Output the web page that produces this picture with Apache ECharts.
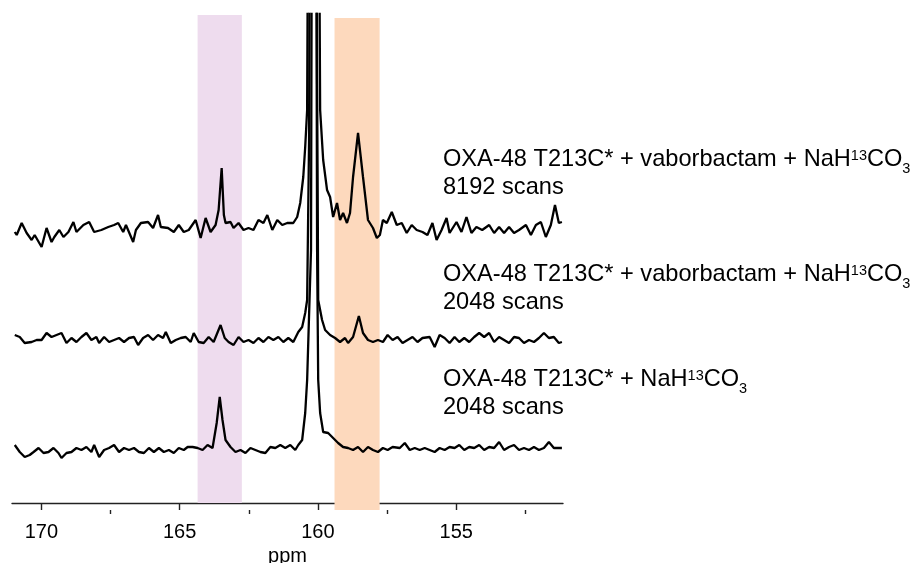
<!DOCTYPE html>
<html>
<head>
<meta charset="utf-8">
<script src="https://cdn.jsdelivr.net/npm/echarts@6/dist/echarts.min.js"></script>
<style>
  html, body { margin: 0; padding: 0; background: #fff; }
  #chart { width: 913px; height: 563px; }
</style>
</head>
<body>
<div id="chart"></div>
<script>
// chemical shift axis (ppm)
const majorTicks = [170, 165, 160, 155];
const minorTicks = [167.5, 162.5, 157.5, 152.5];

// highlighted regions (ppm)
const purpleBand = [164.35, 162.75];
const orangeBand = [159.4, 157.77];

// vertical offsets of the stacked spectra
const topOffset = 271;
const midOffset = 163;
const botOffset = 53;

// top spectrum: OXA-48 T213C* + vaborbactam + NaH13CO3, 8192 scans
const ppmTop = [170.96,170.89,170.71,170.53,170.35,170.24,169.99,169.81,169.63,169.53,
  169.35,169.20,169.02,168.84,168.73,168.48,168.27,168.09,167.83,167.58,
  167.37,167.22,167.04,166.94,166.68,166.58,166.40,166.14,165.96,165.78,
  165.68,165.42,165.21,165.03,164.85,164.67,164.42,164.24,164.06,163.88,
  163.70,163.59,163.48,163.40,163.34,163.16,163.05,162.87,162.69,162.51,
  162.33,162.15,161.97,161.83,161.65,161.47,161.29,161.11,160.89,160.75,
  160.64,160.53,160.46,160.39,160.17,159.92,159.81,159.67,
  159.56,159.45,159.31,159.20,159.09,158.95,158.84,158.73,158.55,158.37,
  158.19,158.01,157.87,157.76,157.65,157.51,157.33,157.15,156.97,156.79,
  156.61,156.43,156.22,156.04,155.86,155.71,155.53,155.35,155.24,154.99,
  154.81,154.63,154.45,154.27,154.06,153.81,153.63,153.45,153.27,153.09,
  152.91,152.73,152.48,152.30,152.12,151.94,151.76,151.58,151.43,151.29,
  151.18];
const intTop = [0,-3,9,-1,-8,-3,-15,4,-10,-5,
  2,-5,0,10,0,7,10,0,2,5,
  7,9,0,7,-10,2,9,10,4,17,
  5,4,0,7,0,2,12,-6,14,0,
  7,22,64,17,9,10,4,9,2,4,
  2,12,9,17,2,12,7,9,9,15,
  29,55,85,122,1500,122,72,42,
  35,15,29,12,19,9,19,55,99,55,
  12,4,-6,-3,12,9,20,7,9,-1,
  7,2,0,-3,9,-8,2,14,-1,10,
  0,15,-1,5,2,7,-1,5,-1,5,
  -1,2,7,-3,7,10,-5,7,27,9,
  10];

// middle spectrum: OXA-48 T213C* + vaborbactam + NaH13CO3, 2048 scans
const ppmMid = [170.96,170.78,170.60,170.35,170.17,169.99,169.81,169.63,169.45,169.27,
  169.09,168.91,168.73,168.55,168.37,168.19,168.01,167.91,167.73,167.55,
  167.37,167.19,167.01,166.83,166.65,166.50,166.32,166.14,165.96,165.78,
  165.60,165.50,165.32,165.14,164.96,164.78,164.60,164.49,164.31,164.13,
  163.95,163.88,163.77,163.52,163.37,163.23,163.05,162.87,162.69,162.51,
  162.33,162.15,161.97,161.79,161.61,161.43,161.25,161.07,160.89,160.71,
  160.57,160.46,160.39,160.32,160.17,160.03,159.99,159.85,159.74,159.56,159.38,159.20,
  159.02,158.91,158.73,158.52,158.37,158.19,158.01,157.83,157.65,157.48,
  157.30,157.12,156.94,156.76,156.58,156.40,156.22,155.96,155.78,155.60,
  155.42,155.24,155.06,154.89,154.71,154.53,154.35,154.17,153.99,153.81,
  153.63,153.45,153.27,153.09,152.91,152.73,152.55,152.37,152.19,152.01,
  151.83,151.65,151.47,151.29,151.18];
const intMid = [5,3,-3,-2,0,0,7,3,5,7,
  -3,2,-2,3,7,0,3,-3,3,-2,
  0,2,-2,2,3,-5,2,5,0,5,
  2,8,-3,0,2,3,-2,7,-2,-3,
  3,5,-2,15,2,-2,-5,3,-2,0,
  -3,2,-2,3,0,3,-2,2,-2,8,
  13,27,40,200,1500,260,40,20,10,5,2,-2,
  2,-3,3,24,7,0,-2,0,-2,5,
  0,3,-3,0,3,-2,2,3,-7,5,
  2,-3,3,-2,2,-2,3,7,3,7,
  -2,3,0,-3,3,2,-3,0,-2,2,
  7,2,3,-3,-2];

// bottom spectrum: OXA-48 T213C* + NaH13CO3, 2048 scans
const ppmBot = [170.96,170.78,170.60,170.42,170.28,170.10,169.92,169.74,169.56,169.38,
  169.27,169.09,168.91,168.73,168.55,168.37,168.19,168.09,167.91,167.73,
  167.55,167.37,167.19,167.01,166.83,166.65,166.47,166.29,166.11,165.93,
  165.75,165.57,165.39,165.21,165.03,164.85,164.71,164.53,164.35,164.17,
  163.99,163.81,163.66,163.55,163.45,163.34,163.16,162.98,162.80,162.62,
  162.44,162.26,162.08,161.90,161.72,161.54,161.36,161.18,161.00,160.82,
  160.71,160.57,160.46,160.39,160.25,160.14,160.03,159.99,159.92,159.81,159.63,159.45,
  159.27,159.09,158.91,158.73,158.55,158.37,158.19,158.01,157.83,157.65,
  157.48,157.30,157.04,156.86,156.68,156.50,156.32,156.14,155.96,155.78,
  155.60,155.42,155.24,155.06,154.89,154.71,154.53,154.35,154.17,153.99,
  153.81,153.63,153.45,153.27,153.09,152.91,152.73,152.55,152.37,152.19,
  152.01,151.83,151.65,151.47,151.18];
const intBot = [5,-2,-7,-5,-2,2,-3,-2,2,-3,
  -8,-3,-2,2,0,3,-2,5,-7,0,
  2,5,-2,2,0,2,-2,-3,2,-2,
  2,-2,0,-3,2,0,3,3,2,0,
  5,2,27,53,30,10,3,-2,0,-3,
  2,0,-2,-3,3,2,5,2,5,0,
  5,10,37,70,200,1500,200,70,37,18,17,12,
  7,3,2,0,3,-2,3,0,-2,2,
  0,3,2,7,0,2,0,2,0,-2,
  2,0,3,2,5,0,3,2,5,0,
  3,2,8,0,3,5,0,2,0,3,
  0,2,8,2,2];

const labelBlocks = [
  { main: 'OXA-48 T213C* + vaborbactam + NaH', scans: '8192 scans', top: 147 },
  { main: 'OXA-48 T213C* + vaborbactam + NaH', scans: '2048 scans', top: 262 },
  { main: 'OXA-48 T213C* + NaH', scans: '2048 scans', top: 367 }
];

const FONT = "'Liberation Sans', Arial, sans-serif";

function pairs(ppm, vals, offset) {
  return ppm.map((p, i) => [p, vals[i] + offset]);
}

function traceSeries(name, data) {
  return {
    name: name,
    type: 'line',
    data: data,
    showSymbol: false,
    symbol: 'none',
    clip: true,
    z: 3,
    lineStyle: { color: '#000', width: 2.3 },
    emphasis: { disabled: true }
  };
}

const graphics = [];
labelBlocks.forEach(b => {
  graphics.push({
    type: 'text',
    left: 443,
    top: b.top,
    style: {
      text: '{m|' + b.main + '}{sup|13}{m|CO}{sub|3}',
      fill: '#000',
      rich: {
        m: { fontSize: 23.6, lineHeight: 23, fontFamily: FONT, verticalAlign: 'top', fill: '#000' },
        sup: { fontSize: 14.5, lineHeight: 14, fontFamily: FONT, verticalAlign: 'top', fill: '#000', padding: [1, 0, 0, 0] },
        sub: { fontSize: 14.5, lineHeight: 14, fontFamily: FONT, verticalAlign: 'top', fill: '#000', padding: [14, 0, 0, 0] }
      }
    }
  });
  graphics.push({
    type: 'text',
    left: 443,
    top: b.top + 28,
    style: { text: b.scans, font: '23.6px ' + FONT, fill: '#000' }
  });
});

const chart = echarts.init(document.getElementById('chart'));
chart.setOption({
  animation: false,
  backgroundColor: '#fff',
  grid: { left: 12, right: 350, top: 14, bottom: 53, containLabel: false, outerBoundsMode: 'none' },
  xAxis: [
    {
      type: 'value',
      inverse: true,
      min: 151.14,
      max: 171.06,
      name: 'ppm',
      nameLocation: 'middle',
      nameGap: 30,
      nameTextStyle: { fontSize: 20, fontFamily: FONT, color: '#000' },
      axisLine: { onZero: true, lineStyle: { color: '#222', width: 1.4 } },
      axisTick: { show: true, inside: false, length: 7, customValues: majorTicks, lineStyle: { color: '#222', width: 1.4 } },
      axisLabel: { customValues: majorTicks, fontSize: 20, fontFamily: FONT, color: '#000', margin: 12 },
      splitLine: { show: false }
    },
    {
      type: 'value',
      inverse: true,
      position: 'bottom',
      min: 151.14,
      max: 171.06,
      axisLine: { show: false, onZero: true },
      axisTick: { show: true, inside: false, length: 4, customValues: minorTicks, lineStyle: { color: '#222', width: 1.4 } },
      axisLabel: { show: false },
      splitLine: { show: false }
    }
  ],
  yAxis: {
    type: 'value',
    min: -7,
    max: 489,
    show: false,
    splitLine: { show: false }
  },
  series: [
    {
      name: 'bands',
      type: 'line',
      data: [],
      z: 1,
      markArea: {
        silent: true,
        data: [
          [{ xAxis: purpleBand[0], yAxis: 0, itemStyle: { color: '#eedcee' } }, { xAxis: purpleBand[1], yAxis: 488 }],
          [{ xAxis: orangeBand[0], yAxis: -7, itemStyle: { color: '#fdd9bd' } }, { xAxis: orangeBand[1], yAxis: 485 }]
        ]
      }
    },
    traceSeries('top', pairs(ppmTop, intTop, topOffset)),
    traceSeries('middle', pairs(ppmMid, intMid, midOffset)),
    traceSeries('bottom', pairs(ppmBot, intBot, botOffset))
  ],
  graphic: graphics
});
</script>
</body>
</html>
